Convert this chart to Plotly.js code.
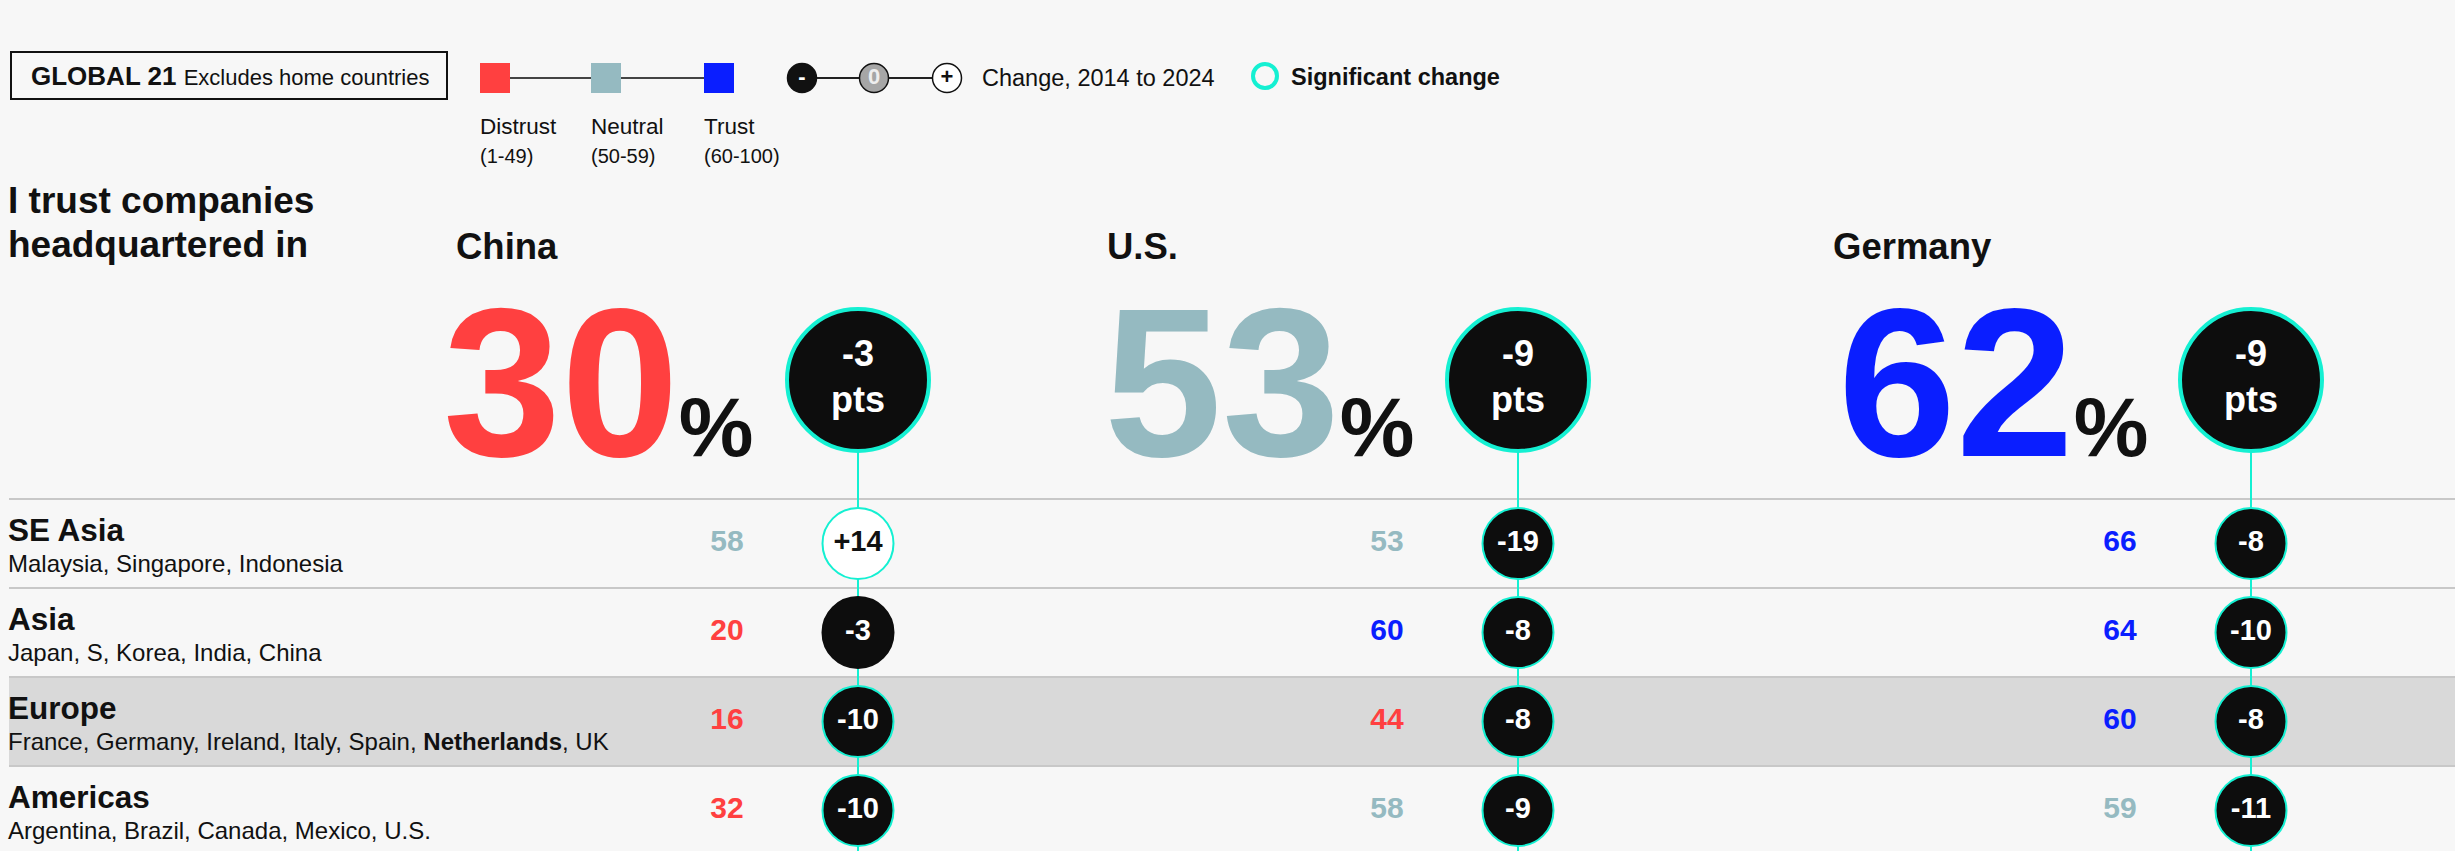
<!DOCTYPE html>
<html><head><meta charset="utf-8">
<script src="https://cdn.plot.ly/plotly-3.0.1.min.js"></script>
<style>html,body{margin:0;padding:0;background:#f7f7f7;overflow:hidden}#chart{width:2455px;height:851px}</style>
</head><body><div id="chart"></div>
<script>
// ---------------- DATA ----------------
const countries = ['China', 'U.S.', 'Germany'];
const overallScore = [30, 53, 62];
const overallChange = [-3, -9, -9];
const overallSignificant = [true, true, true];

const regions = ['SE Asia', 'Asia', 'Europe', 'Americas'];
const regionCountries = [
  'Malaysia, Singapore, Indonesia',
  'Japan, S, Korea, India, China',
  'France, Germany, Ireland, Italy, Spain, <b>Netherlands</b>, UK',
  'Argentina, Brazil, Canada, Mexico, U.S.'
];
const highlightedRegion = 'Europe';

const chinaScores = [58, 20, 16, 32];
const usScores = [53, 60, 44, 58];
const germanyScores = [66, 64, 60, 59];
const chinaChange = [14, -3, -10, -10];
const usChange = [-19, -8, -8, -9];
const germanyChange = [-8, -10, -8, -11];
const chinaSignificant = [true, false, true, true];
const usSignificant = [true, true, true, true];
const germanySignificant = [true, true, true, true];

const legendLevels = ['Distrust', 'Neutral', 'Trust'];
const legendRanges = ['(1-49)', '(50-59)', '(60-100)'];
const legendChangeSymbols = ['-', '0', '+'];

const scoresByCountry = [chinaScores, usScores, germanyScores];
const changeByCountry = [chinaChange, usChange, germanyChange];
const sigByCountry = [chinaSignificant, usSignificant, germanySignificant];

// ---------------- LAYOUT CONSTANTS ----------------
const W = 2455, H = 851;
const FONT = 'Liberation Sans, Arial, Helvetica, sans-serif';
const INK = '#111111';
const RED = '#ff4040', NEUTRAL = '#95bac1', BLUE = '#0a1eff';
const TEAL = '#14f0d2';
const BG = '#f7f7f7';
const colLabelX = [454, 1105, 1831];
const bigNumOffset = [-13, -3, 5];
const colCircleX = [858, 1518, 2251];
const bigCircleY = 380;
const bigNumY = 382.5;
const tableTop = 499, rowH = 89;
const rowCenter = j => tableTop + rowH * (j + 0.5);
const levelColor = v => v < 50 ? RED : (v < 60 ? NEUTRAL : BLUE);
const changeFill = c => c < 0 ? '#0d0d0d' : (c > 0 ? '#ffffff' : '#a6a6a6');
const changeText = c => c > 0 ? '#111111' : '#ffffff';
const fmtChange = c => (c > 0 ? '+' : '') + c;

function ann(text, x, y, size, o) {
  o = o || {};
  return Object.assign({
    text: text, x: x, y: y, xref: 'x', yref: 'y', showarrow: false,
    xanchor: 'left', yanchor: 'middle',
    font: {family: FONT, size: size, color: o.color || INK, weight: o.weight || 'normal'}
  }, o.extra || {});
}

const traces = [];
const annotations = [];
const shapes = [];

// Europe highlight band and separators
regions.forEach((r, j) => {
  if (r === highlightedRegion) {
    shapes.push({type: 'rect', xref: 'x', yref: 'y', x0: 9, x1: W, y0: tableTop + rowH * j, y1: tableTop + rowH * (j + 1),
      fillcolor: '#d9d9d9', line: {width: 0}, layer: 'below'});
  }
});
for (let j = 0; j <= regions.length; j++) {
  shapes.push({type: 'line', xref: 'x', yref: 'y', x0: 9, x1: W, y0: tableTop + rowH * j, y1: tableTop + rowH * j,
    line: {color: '#c8c8c8', width: 2}, layer: 'below'});
}
// connectors
colCircleX.forEach(cx => {
  shapes.push({type: 'line', xref: 'x', yref: 'y', x0: cx, x1: cx, y0: bigCircleY, y1: H,
    line: {color: TEAL, width: 2}, layer: 'below'});
});
// legend box
shapes.push({type: 'rect', xref: 'x', yref: 'y', x0: 11, x1: 447, y0: 52, y1: 99, line: {color: INK, width: 2}, fillcolor: 'rgba(0,0,0,0)'});

// Header
annotations.push(ann('<b>GLOBAL 21</b> <span style="font-size:22px">Excludes home countries</span>', 29, 76, 26));
annotations.push(ann('I trust companies', 6, 200.5, 37, {weight: 'bold'}));
annotations.push(ann('headquartered in', 6, 244.5, 37, {weight: 'bold'}));

// Level legend
const legendSqX = [495, 606, 719];
traces.push({type: 'scatter', mode: 'lines+markers', x: legendSqX, y: legendLevels.map(() => 78),
  line: {color: '#444', width: 2},
  marker: {symbol: 'square', size: 30, color: [RED, NEUTRAL, BLUE], line: {width: 0}},
  hoverinfo: 'skip', cliponaxis: false});
legendLevels.forEach((l, i) => {
  annotations.push(ann(l, legendSqX[i] - 17, 126.5, 22.5));
  annotations.push(ann(legendRanges[i], legendSqX[i] - 17, 156, 20));
});

// Change legend
const legendChX = [802, 874, 947];
traces.push({type: 'scatter', mode: 'lines+markers+text', x: legendChX, y: legendChangeSymbols.map(() => 78),
  line: {color: '#222', width: 2},
  marker: {size: 29, color: ['#111111', '#a6a6a6', '#ffffff'], line: {color: '#111', width: 1.5}},
  text: legendChangeSymbols, textposition: 'middle center',
  textfont: {family: FONT, size: 22, color: ['#ffffff', '#eeeeee', '#111111'], weight: 'bold'},
  hoverinfo: 'skip', cliponaxis: false});
annotations.push(ann('Change, 2014 to 2024', 980, 78, 23.5));
traces.push({type: 'scatter', mode: 'markers', x: [1265], y: [76],
  marker: {size: 24, color: 'rgba(0,0,0,0)', line: {color: TEAL, width: 4}}, hoverinfo: 'skip', cliponaxis: false});
annotations.push(ann('Significant change', 1289, 77, 23.5, {weight: 'bold'}));

// Country headers and big numbers
countries.forEach((c, i) => {
  annotations.push(ann(c, colLabelX[i], 246.5, 36.5, {weight: 'bold'}));
  annotations.push(ann(overallScore[i] + '<span style="font-size:84px;color:' + INK + '">%</span>',
    colLabelX[i] + bigNumOffset[i], bigNumY, 212, {weight: 'bold', color: levelColor(overallScore[i])}));
});
traces.push({type: 'scatter', mode: 'markers+text', x: colCircleX, y: countries.map(() => bigCircleY),
  marker: {size: 142, color: overallChange.map(changeFill),
    line: {color: overallSignificant.map((s, i) => s ? TEAL : changeFill(overallChange[i])), width: 4}},
  text: overallChange.map(c => fmtChange(c) + '<br>pts'), textposition: 'middle center',
  textfont: {family: FONT, size: 36, color: overallChange.map(changeText), weight: 'bold'},
  hoverinfo: 'skip', cliponaxis: false});

// Region labels
regions.forEach((r, j) => {
  annotations.push(ann(r, 6, rowCenter(j) - 13.5, 31.5, {weight: 'bold'}));
  annotations.push(ann(regionCountries[j], 6, rowCenter(j) + 20, 24));
});

// Region values and change circles
const vx = [], vy = [], vt = [], vc = [];
const cx = [], cy = [], ct = [], cfill = [], cline = [], ctext = [];
countries.forEach((c, i) => {
  regions.forEach((r, j) => {
    const v = scoresByCountry[i][j];
    const ch = changeByCountry[i][j];
    vx.push(colCircleX[i] - 131); vy.push(rowCenter(j)); vt.push(String(v)); vc.push(levelColor(v));
    cx.push(colCircleX[i]); cy.push(rowCenter(j)); ct.push(fmtChange(ch));
    cfill.push(changeFill(ch)); cline.push(sigByCountry[i][j] ? TEAL : changeFill(ch)); ctext.push(changeText(ch));
  });
});
traces.push({type: 'scatter', mode: 'text', x: vx, y: vy, text: vt, textposition: 'middle center',
  textfont: {family: FONT, size: 30, color: vc, weight: 'bold'}, hoverinfo: 'skip', cliponaxis: false});
traces.push({type: 'scatter', mode: 'markers+text', x: cx, y: cy, text: ct, textposition: 'middle center',
  marker: {size: 71, color: cfill, line: {color: cline, width: 2}},
  textfont: {family: FONT, size: 29, color: ctext, weight: 'bold'}, hoverinfo: 'skip', cliponaxis: false});

const layout = {
  width: W, height: H, margin: {l: 0, r: 0, t: 0, b: 0},
  paper_bgcolor: BG, plot_bgcolor: BG, showlegend: false,
  xaxis: {range: [0, W], visible: false, fixedrange: true},
  yaxis: {range: [H, 0], visible: false, fixedrange: true},
  shapes: shapes, annotations: annotations,
  font: {family: FONT, color: INK}
};
Plotly.newPlot('chart', traces, layout, {displayModeBar: false, staticPlot: true});
</script>
</body></html>
